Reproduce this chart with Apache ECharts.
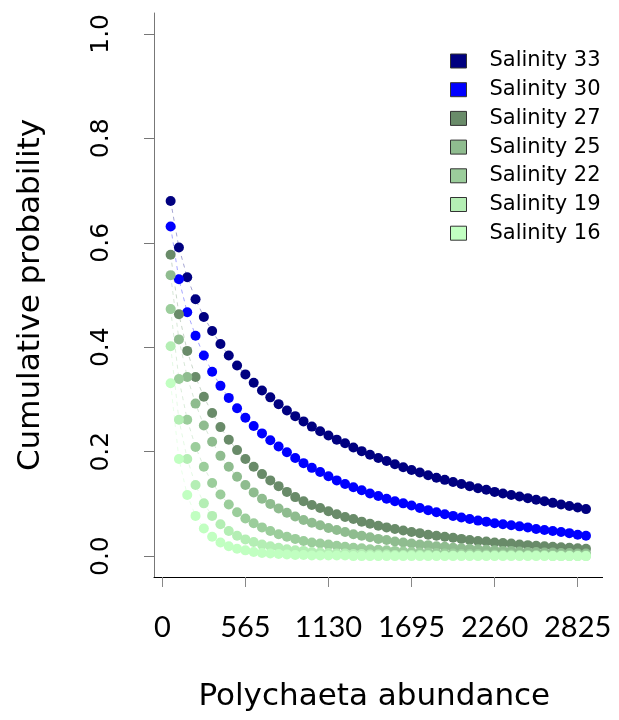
<!DOCTYPE html>
<html>
<head>
<meta charset="utf-8">
<script src="https://cdn.jsdelivr.net/npm/echarts@6/dist/echarts.min.js"></script>
<style>
html,body{margin:0;padding:0;background:#fff;}
#chart{width:619px;height:720px;}
</style>
</head>
<body>
<div id="chart"></div>
<script>
// Polychaeta abundance values (x)
var abundance = [56.5,113,169.5,226,282.5,339,395.5,452,508.5,565,621.5,678,734.5,791,847.5,904,960.5,1017,1073.5,1130,1186.5,1243,1299.5,1356,1412.5,1469,1525.5,1582,1638.5,1695,1751.5,1808,1864.5,1921,1977.5,2034,2090.5,2147,2203.5,2260,2316.5,2373,2429.5,2486,2542.5,2599,2655.5,2712,2768.5,2825,2881.5];

// Cumulative probability per salinity
var sal33 = [0.680,0.591,0.534,0.492,0.458,0.431,0.406,0.384,0.365,0.348,0.332,0.317,0.304,0.291,0.279,0.268,0.258,0.248,0.239,0.231,0.223,0.216,0.208,0.201,0.194,0.188,0.182,0.176,0.170,0.165,0.160,0.155,0.150,0.146,0.142,0.138,0.134,0.130,0.127,0.123,0.120,0.117,0.114,0.111,0.108,0.105,0.102,0.099,0.096,0.093,0.090];
var sal30 = [0.631,0.530,0.467,0.422,0.384,0.353,0.326,0.303,0.283,0.265,0.249,0.235,0.222,0.210,0.199,0.188,0.178,0.169,0.161,0.153,0.145,0.138,0.132,0.126,0.120,0.115,0.110,0.105,0.101,0.097,0.092,0.088,0.084,0.080,0.077,0.074,0.071,0.068,0.066,0.063,0.061,0.059,0.057,0.055,0.052,0.050,0.048,0.046,0.044,0.041,0.039];
var sal27 = [0.577,0.463,0.393,0.343,0.305,0.274,0.247,0.223,0.203,0.186,0.171,0.157,0.145,0.134,0.123,0.113,0.105,0.098,0.092,0.086,0.080,0.075,0.071,0.066,0.062,0.058,0.055,0.052,0.049,0.046,0.044,0.041,0.039,0.037,0.035,0.033,0.031,0.029,0.028,0.026,0.025,0.024,0.022,0.021,0.020,0.019,0.018,0.017,0.016,0.015,0.014];
var sal25 = [0.538,0.415,0.343,0.292,0.250,0.219,0.192,0.171,0.152,0.136,0.122,0.110,0.100,0.091,0.083,0.076,0.069,0.064,0.059,0.054,0.050,0.046,0.042,0.039,0.036,0.033,0.031,0.028,0.026,0.024,0.022,0.021,0.019,0.018,0.016,0.015,0.014,0.013,0.012,0.011,0.010,0.010,0.009,0.008,0.008,0.007,0.007,0.006,0.006,0.005,0.005];
var sal22 = [0.473,0.339,0.261,0.209,0.171,0.140,0.118,0.099,0.084,0.072,0.063,0.055,0.048,0.042,0.037,0.033,0.029,0.026,0.024,0.022,0.020,0.018,0.016,0.015,0.013,0.012,0.011,0.010,0.009,0.008,0.007,0.007,0.006,0.005,0.005,0.004,0.004,0.004,0.003,0.003,0.003,0.003,0.002,0.002,0.002,0.002,0.002,0.002,0.002,0.002,0.002];
var sal19 = [0.402,0.261,0.186,0.136,0.101,0.077,0.061,0.048,0.039,0.032,0.027,0.022,0.019,0.016,0.013,0.011,0.010,0.008,0.007,0.006,0.005,0.005,0.004,0.004,0.003,0.003,0.003,0.002,0.002,0.002,0.002,0.002,0.001,0.001,0.001,0.001,0.001,0.001,0.001,0.001,0.001,0.001,0.001,0.001,0.001,0.001,0.000,0.000,0.000,0.000,0.000];
var sal16 = [0.331,0.186,0.117,0.077,0.053,0.037,0.026,0.019,0.014,0.011,0.008,0.006,0.005,0.004,0.003,0.002,0.002,0.001,0.001,0.001,0.001,0.001,0.000,0.000,0.000,0.000,0.000,0.000,0.000,0.000,0.000,0.000,0.000,0.000,0.000,0.000,0.000,0.000,0.000,0.000,0.000,0.000,0.000,0.000,0.000,0.000,0.000,0.000,0.000,0.000,0.000];

var seriesNames = ['Salinity 33','Salinity 30','Salinity 27','Salinity 25','Salinity 22','Salinity 19','Salinity 16'];
var seriesValues = [sal33, sal30, sal27, sal25, sal22, sal19, sal16];
var seriesColors = ['#000080','#0000FF','#698B69','#8FBC8F','#9BCD9B','#B4EEB4','#C1FFC1'];

var xTicks = [0,565,1130,1695,2260,2825];
var yTicks = [0,0.2,0.4,0.6,0.8,1.0];

var chart = echarts.init(document.getElementById('chart'), null, {renderer:'canvas'});

var series = seriesNames.map(function(name, i){
  return {
    name: name,
    type: 'line',
    data: abundance.map(function(x, j){ return [x, seriesValues[i][j]]; }),
    symbol: 'circle',
    symbolSize: 10,
    showAllSymbol: true,
    itemStyle: {color: seriesColors[i]},
    lineStyle: {color: seriesColors[i], width: 0.8, type: [4,4], opacity: 0.45},
    emphasis: {disabled: true},
    animation: false
  };
});

chart.setOption({
  backgroundColor: '#fff',
  animation: false,
  grid: {left: 154, right: 16.4, top: 13, bottom: 143, containLabel: false, outerBoundsMode: 'none'},
  legend: {
    orient: 'vertical',
    left: 450,
    top: 47,
    padding: 0,
    icon: 'rect',
    itemWidth: 16,
    itemHeight: 14,
    itemGap: 0.7,
    itemStyle: {borderColor: '#333', borderWidth: 1},
    textStyle: {fontFamily: 'DejaVu Sans', fontSize: 21, color: '#000', lineHeight: 28, padding: [0,0,0,18]},
    data: seriesNames
  },
  xAxis: {
    type: 'value',
    min: -56.5,
    max: 2994.5,
    name: 'Polychaeta abundance',
    nameLocation: 'middle',
    nameGap: 104,
    nameTextStyle: {fontFamily: 'DejaVu Sans', fontSize: 31, color: '#000', padding: [0,8,0,0]},
    axisLine: {show: true, onZero: false, lineStyle: {color: '#000', width: 1}},
    axisTick: {show: true, length: 10, lineStyle: {color: '#888'}, customValues: xTicks},
    axisLabel: {customValues: xTicks, margin: 36, fontFamily: 'Lato', fontSize: 29, color: '#000',
      formatter: function(v){ return String(v); }},
    splitLine: {show: false}
  },
  yAxis: {
    type: 'value',
    min: -0.04,
    max: 1.04,
    name: 'Cumulative probability',
    nameLocation: 'middle',
    nameGap: 108,
    nameTextStyle: {fontFamily: 'DejaVu Sans', fontSize: 31, color: '#000'},
    axisLine: {show: true, onZero: false, lineStyle: {color: '#777', width: 1}},
    axisTick: {show: true, length: 10, lineStyle: {color: '#777'}, customValues: yTicks},
    axisLabel: {customValues: yTicks, rotate: 90, margin: 40, fontFamily: 'DejaVu Sans', fontSize: 25, color: '#000',
      formatter: function(v){ return v.toFixed(1); }},
    splitLine: {show: false}
  },
  series: series
});
</script>
</body>
</html>
